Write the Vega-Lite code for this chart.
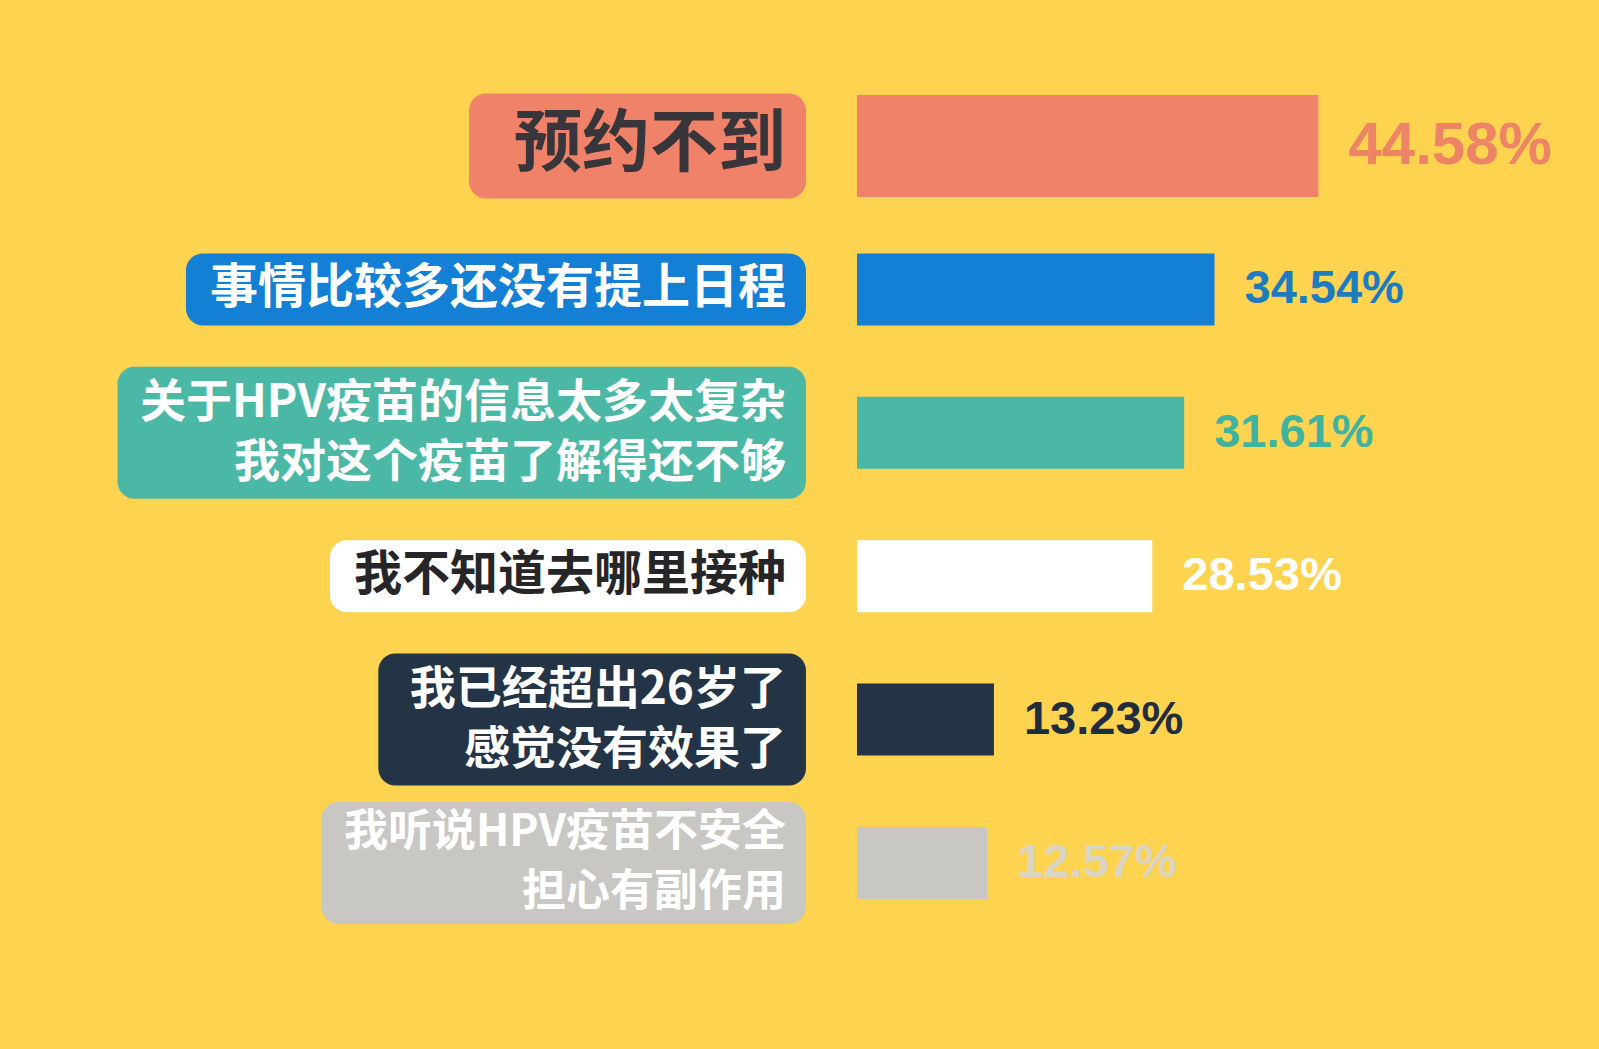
{
  "$schema": "https://vega.github.io/schema/vega-lite/v6.json",
  "width": 1599,
  "height": 1049,
  "padding": 0,
  "autosize": {"type": "none"},
  "background": "#FDD34F",
  "config": {"view": {"stroke": null}},
  "data": {
    "values": [
      {"label": ["预约不到"], "pct": 44.58},
      {"label": ["事情比较多还没有提上日程"], "pct": 34.54},
      {"label": ["关于HPV疫苗的信息太多太复杂", "我对这个疫苗了解得还不够"], "pct": 31.61},
      {"label": ["我不知道去哪里接种"], "pct": 28.53},
      {"label": ["我已经超出26岁了", "感觉没有效果了"], "pct": 13.23},
      {"label": ["我听说HPV疫苗不安全", "担心有副作用"], "pct": 12.57}
    ]
  },
  "transform": [
    {"window": [{"op": "row_number", "as": "i"}]},
    {"calculate": "datum.label[0]", "as": "l0"},
    {"calculate": "length(datum.label) > 1 ? datum.label[1] : ''", "as": "l1"},
    {"calculate": "datum.i == 1 ? 68 : (datum.i == 6 ? 44 : (datum.l1 != '' ? 46 : 48))", "as": "fs"},
    {"calculate": "length(replace(datum.l0, regexp('[0-9A-Za-z]', 'g'), '')) + 0.67 * length(replace(datum.l0, regexp('[^0-9A-Za-z]', 'g'), ''))", "as": "w0"},
    {"calculate": "length(replace(datum.l1, regexp('[0-9A-Za-z]', 'g'), '')) + 0.67 * length(replace(datum.l1, regexp('[^0-9A-Za-z]', 'g'), ''))", "as": "w1"},
    {"calculate": "datum.fs * max(datum.w0, datum.w1) + (datum.i == 1 ? 65 : 44)", "as": "boxw"},
    {"calculate": "-4.93 - datum.boxw / 10.35", "as": "boxstart"},
    {"calculate": "format(datum.pct, '.2f') + '%'", "as": "pctlabel"}
  ],
  "encoding": {
    "y": {
      "field": "i",
      "type": "ordinal",
      "axis": null,
      "scale": {"paddingInner": 0, "paddingOuter": 0.6575, "align": 0.394}
    }
  },
  "layer": [
    {
      "mark": {"type": "bar", "cornerRadius": 17},
      "encoding": {
        "x": {"field": "boxstart", "type": "quantitative", "axis": null, "scale": {"domain": [-82.8, 71.69], "nice": false, "zero": false}},
        "x2": {"datum": -4.93},
        "size": {
          "condition": [
            {"test": "datum.i == 1", "value": 105},
            {"test": "datum.i == 6", "value": 122},
            {"test": "datum.l1 != ''", "value": 132}
          ],
          "value": 72
        },
        "color": {
          "field": "i",
          "type": "nominal",
          "legend": null,
          "scale": {
            "domain": [1, 2, 3, 4, 5, 6],
            "range": ["#F0826A", "#1380D6", "#4BB8A6", "#FFFFFF", "#233447", "#C9C7C3"]
          }
        }
      }
    },
    {
      "mark": {"type": "bar"},
      "encoding": {
        "x": {"field": "pct", "type": "quantitative", "axis": null, "scale": {"domain": [-82.8, 71.69], "nice": false, "zero": false}},
        "x2": {"datum": 0},
        "size": {
          "condition": {"test": "datum.i == 1", "value": 102},
          "value": 72
        },
        "color": {"field": "i", "type": "nominal", "legend": null}
      }
    },
    {
      "transform": [{"filter": "datum.l1 == ''"}],
      "mark": {
        "type": "text",
        "align": "right",
        "baseline": "middle",
        "dx": -20,
        "font": "Noto Sans CJK SC",
        "fontWeight": "bold"
      },
      "encoding": {
        "x": {"datum": -4.93, "axis": null, "scale": {"domain": [-82.8, 71.69], "nice": false, "zero": false}},
        "text": {"field": "l0"},
        "size": {"field": "fs", "type": "quantitative", "scale": null},
        "fill": {
          "condition": [
            {"test": "datum.i == 1", "value": "#38363A"},
            {"test": "datum.i == 4", "value": "#262628"}
          ],
          "value": "#FFFFFF"
        }
      }
    },
    {
      "transform": [{"filter": "datum.l1 != ''"}],
      "mark": {
        "type": "text",
        "align": "right",
        "baseline": "middle",
        "dx": -20,
        "dy": -30,
        "font": "Noto Sans CJK SC",
        "fontWeight": "bold",
        "fill": "#FFFFFF"
      },
      "encoding": {
        "x": {"datum": -4.93, "axis": null, "scale": {"domain": [-82.8, 71.69], "nice": false, "zero": false}},
        "text": {"field": "l0"},
        "size": {"field": "fs", "type": "quantitative", "scale": null}
      }
    },
    {
      "transform": [{"filter": "datum.l1 != ''"}],
      "mark": {
        "type": "text",
        "align": "right",
        "baseline": "middle",
        "dx": -20,
        "dy": 30,
        "font": "Noto Sans CJK SC",
        "fontWeight": "bold",
        "fill": "#FFFFFF"
      },
      "encoding": {
        "x": {"datum": -4.93, "axis": null, "scale": {"domain": [-82.8, 71.69], "nice": false, "zero": false}},
        "text": {"field": "l1"},
        "size": {"field": "fs", "type": "quantitative", "scale": null}
      }
    },
    {
      "mark": {
        "type": "text",
        "align": "left",
        "baseline": "middle",
        "dx": 30,
        "font": "Liberation Sans",
        "fontWeight": "bold"
      },
      "encoding": {
        "x": {"field": "pct", "type": "quantitative", "axis": null, "scale": {"domain": [-82.8, 71.69], "nice": false, "zero": false}},
        "text": {"field": "pctlabel"},
        "size": {
          "condition": {"test": "datum.i == 1", "value": 60},
          "value": 47
        },
        "fill": {
          "field": "i",
          "type": "nominal",
          "legend": null,
          "scale": {
            "domain": [1, 2, 3, 4, 5, 6],
            "range": ["#EE8466", "#1E7BC2", "#40B3A0", "#FFFFFF", "#1F2D3D", "#DAD5C4"]
          }
        }
      }
    }
  ]
}
